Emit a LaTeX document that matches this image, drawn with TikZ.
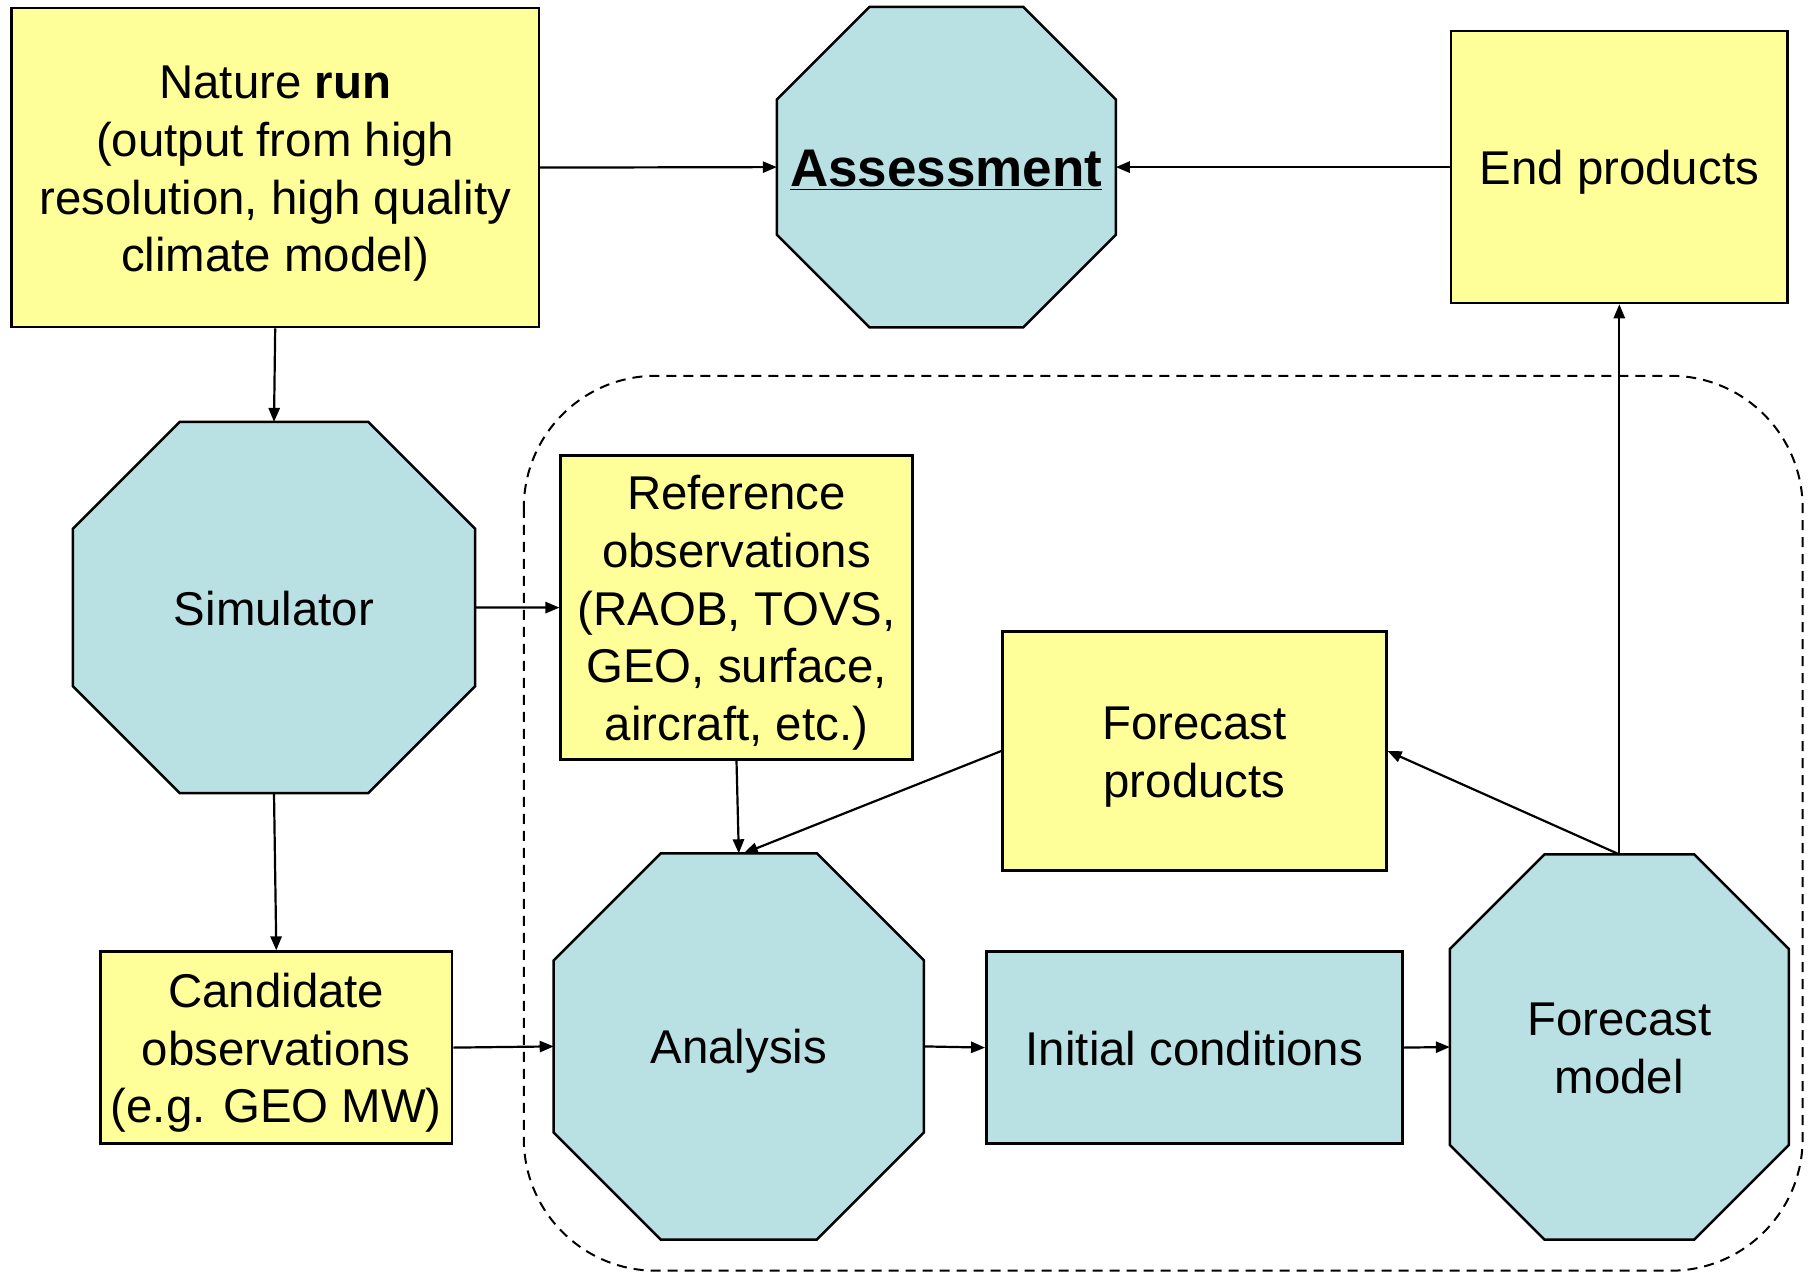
\documentclass[tikz,border=0pt]{standalone}
\usepackage{fontspec}
\setmainfont{Liberation Sans}
\usetikzlibrary{arrows.meta,backgrounds}
\definecolor{boxyellow}{HTML}{FFFF99}
\definecolor{boxblue}{HTML}{B9E0E3}
\newcommand\sT{\rule[-5.7pt]{0pt}{28.9pt}}
\newcommand\bT{\rule[-4.95pt]{0pt}{28.9pt}}
\tikzset{
  txt/.style={align=center, font=\fontsize{23.7}{28.9}\selectfont, inner sep=0pt},
  ybox/.style={txt, rectangle, draw=black, line width=1.25pt, fill=boxyellow},
  bbox/.style={txt, rectangle, draw=black, line width=1.25pt, fill=boxblue},
  octnode/.style={txt, rectangle, draw=none, outer sep=0.6pt},
  octline/.style={draw=black, line width=1.25pt, fill=boxblue, line join=miter},
  conn/.style={line width=1.1pt, -{Triangle[length=7pt,width=5.6pt]}},
}
\newcommand\drawoct[2]{%
  \filldraw[octline] ([xshift=#2]#1.north west) -- ([xshift=-#2]#1.north east)
    -- ([yshift=-#2]#1.north east) -- ([yshift=#2]#1.south east)
    -- ([xshift=-#2]#1.south east) -- ([xshift=#2]#1.south west)
    -- ([yshift=#2]#1.south west) -- ([yshift=-#2]#1.north west) -- cycle;}
\begin{document}
\begin{tikzpicture}[x=0.5pt,y=-0.5pt]
\useasboundingbox (0,0) rectangle (1813,1273);

\node[ybox, minimum width=263.6pt, minimum height=159.6pt] (nr) at (275.2,167.6)
  {\sT Nature \textbf{run}\\(output from high\\resolution, high quality\\climate model)\sT};
\node[octnode, minimum width=168.3pt, minimum height=159pt,
      font=\fontsize{26.5}{28.9}\selectfont\bfseries] (as) at (946.3,167.1)
  {\bT\underline{Assessment}\bT};
\node[ybox, minimum width=168.3pt, minimum height=135.9pt] (ep) at (1619.3,167.1) {\sT End products\sT};
\node[octnode, minimum width=200pt, minimum height=184.4pt] (sim) at (274,607.5) {\sT Simulator\sT};
\node[ybox, minimum width=175.8pt, minimum height=152pt] (ro) at (736.5,607.6)
  {\sT Reference\\observations\\(RAOB, TOVS,\\GEO, surface,\\aircraft, etc.)\sT};
\node[ybox, minimum width=191.9pt, minimum height=119.7pt] (fp) at (1194.4,751) {\sT Forecast\\ products\sT};
\node[ybox, minimum width=175.8pt, minimum height=96pt] (co) at (276.3,1047.6)
  {\sT Candidate\\observations\\(e.g. GEO MW)\sT};
\node[octnode, minimum width=183.9pt, minimum height=191.9pt] (an) at (738.8,1046.4) {\sT Analysis\sT};
\node[bbox, minimum width=208.1pt, minimum height=96pt] (ic) at (1194.4,1047.6) {\sT Initial conditions\sT};
\node[octnode, minimum width=168.3pt, minimum height=191.4pt] (fm) at (1619.3,1047) {\sT Forecast\\model\sT};

\begin{scope}[on background layer]
  \draw[line width=1pt, dash pattern=on 5pt off 3.5pt, rounded corners=66pt]
    (523.8,375.8) rectangle (1802.6,1270.7);
  \drawoct{as}{46.3pt}
  \drawoct{sim}{53.5pt}
  \drawoct{an}{53.5pt}
  \drawoct{fm}{47.3pt}
\end{scope}

\draw[conn] (nr.east) -- (as.west);
\draw[conn] (ep.west) -- (as.east);
\draw[conn] (nr.south) -- (sim.north);
\draw[conn] (sim.east) -- (ro.west);
\draw[conn] (sim.south) -- (co.north);
\draw[conn] (co.east) -- (an.west);
\draw[conn] (ro.south) -- (an.north);
\draw[conn] (fp.west) -- ([xshift=2.5pt]an.north);
\draw[conn] (an.east) -- (ic.west);
\draw[conn] (ic.east) -- (fm.west);
\draw[conn] (fm.north) -- (fp.east);
\draw[conn] (fm.north) -- (ep.south);
\end{tikzpicture}
\end{document}
